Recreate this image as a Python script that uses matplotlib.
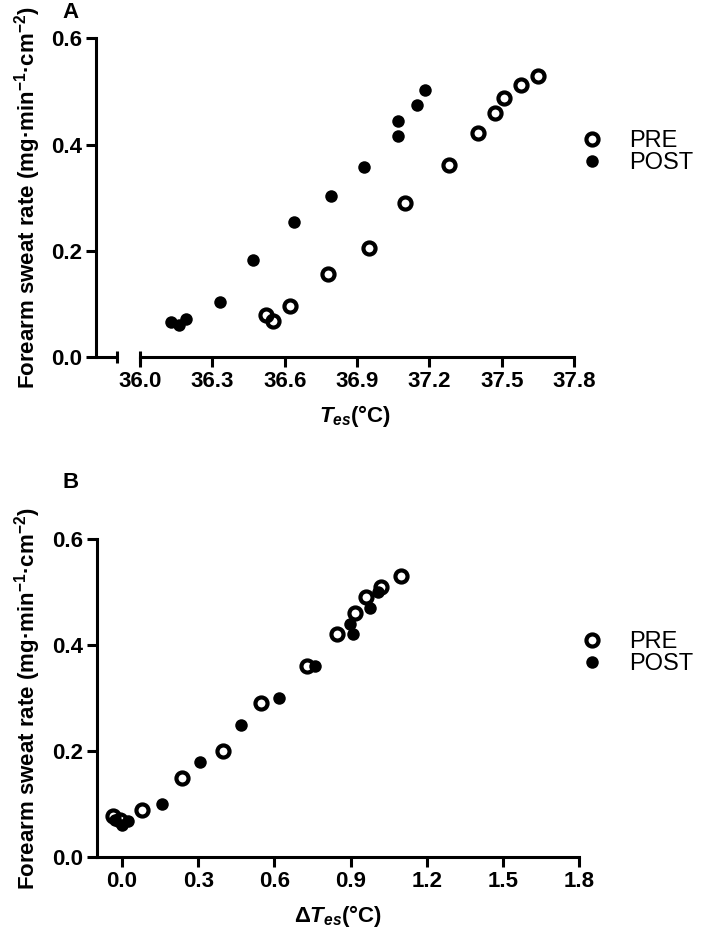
import matplotlib
matplotlib.use('Agg')
import matplotlib.pyplot as plt

plt.rcParams['font.family'] = ['Liberation Sans', 'DejaVu Sans']
plt.rcParams['mathtext.fontset'] = 'custom'
plt.rcParams['mathtext.rm'] = 'Liberation Sans:bold'
plt.rcParams['mathtext.it'] = 'Liberation Sans:bold:italic'
plt.rcParams['mathtext.bf'] = 'Liberation Sans:bold'

# Panel A - sweat rate vs absolute Tes
pre_tes = [36.52, 36.55, 36.62, 36.78, 36.95, 37.10, 37.28, 37.40, 37.47, 37.51, 37.58, 37.65]
pre_sr_a = [0.079, 0.069, 0.097, 0.156, 0.206, 0.290, 0.362, 0.421, 0.459, 0.488, 0.513, 0.529]
post_tes = [36.13, 36.16, 36.19, 36.33, 36.47, 36.64, 36.79, 36.93, 37.07, 37.07, 37.15, 37.18]
post_sr_a = [0.066, 0.060, 0.072, 0.104, 0.182, 0.254, 0.304, 0.358, 0.445, 0.416, 0.475, 0.502]

# Panel B - sweat rate vs change in Tes
pre_dtes = [-0.035, -0.01, 0.078, 0.237, 0.399, 0.548, 0.727, 0.847, 0.919, 0.959, 1.018, 1.098]
pre_sr_b = [0.077, 0.069, 0.089, 0.150, 0.200, 0.290, 0.360, 0.420, 0.460, 0.490, 0.510, 0.530]
post_dtes = [-0.028, -0.001, 0.025, 0.158, 0.307, 0.469, 0.619, 0.758, 0.909, 0.899, 0.978, 1.009]
post_sr_b = [0.070, 0.060, 0.068, 0.100, 0.180, 0.250, 0.300, 0.360, 0.420, 0.440, 0.470, 0.500]

a_ticks = [36.0, 36.3, 36.6, 36.9, 37.2, 37.5, 37.8]
b_ticks = [0.0, 0.3, 0.6, 0.9, 1.2, 1.5, 1.8]
y_ticks = [0.0, 0.2, 0.4, 0.6]

ylab = 'Forearm sweat rate (mg·min$^{-1}$·cm$^{-2}$)'
LW = 2.2

fig = plt.figure(figsize=(7.01, 9.35), dpi=100)
axA = fig.add_axes([0.137, 0.618, 0.682, 0.341])
axB = fig.add_axes([0.138, 0.0834, 0.688, 0.340])


def style(ax):
    for s in ['top', 'right']:
        ax.spines[s].set_visible(False)
    ax.spines['left'].set_linewidth(LW)
    ax.spines['bottom'].set_linewidth(LW)
    ax.tick_params(width=LW, length=7, labelsize=16, pad=3, direction='out')
    ax.set_ylim(0, 0.6)
    ax.set_yticks(y_ticks)
    ax.set_yticklabels([f'{v:.1f}' for v in y_ticks], fontweight='bold')
    ax.set_ylabel(ylab, fontsize=16, fontweight='bold')
    ax.yaxis.set_label_coords(-0.111, 0.5)


def scatter(ax, xpre, ypre, xpost, ypost):
    ax.plot(xpre, ypre, 'o', ls='none', mfc='none', mec='black', ms=8.7, mew=3.0,
            label='PRE', clip_on=False)
    ax.plot(xpost, ypost, 'o', ls='none', color='black', ms=9, mew=0,
            label='POST', clip_on=False)
    ax.legend(loc='center left', frameon=False, fontsize=17, handlelength=1.0,
              handletextpad=1.1, labelspacing=0.0, borderpad=0, borderaxespad=0,
              bbox_transform=fig.transFigure,
              bbox_to_anchor=(0.8274, 0.8375 if ax is axA else 0.3017))


# Panel A with broken x axis
style(axA)
scatter(axA, pre_tes, pre_sr_a, post_tes, post_sr_a)
axA.set_xlim(35.817, 37.8)
axA.spines['bottom'].set_visible(False)
brk = 35.904
axA.plot([35.817, brk], [0, 0], color='black', lw=LW, clip_on=False, solid_capstyle='butt')
axA.plot([a_ticks[0], a_ticks[-1]], [0, 0], color='black', lw=LW, clip_on=False,
         solid_capstyle='projecting')
axA.plot([brk, a_ticks[0]], [0, 0], ls='none', marker='|', ms=8, mew=LW, color='black',
         clip_on=False)
axA.set_xticks(a_ticks)
axA.set_xticklabels([f'{v:.1f}' for v in a_ticks], fontweight='bold')
axA.set_xlabel('$\\mathit{T}_{\\mathit{es}}$(°C)', fontsize=16, fontweight='bold')
axA.xaxis.set_label_coords(0.542, -0.145)

# Panel B
style(axB)
scatter(axB, pre_dtes, pre_sr_b, post_dtes, post_sr_b)
axB.set_xlim(-0.1, 1.8)
axB.set_xticks(b_ticks)
axB.set_xticklabels([f'{v:.1f}' for v in b_ticks], fontweight='bold')
axB.set_xlabel('Δ$\\mathit{T}_{\\mathit{es}}$(°C)', fontsize=16, fontweight='bold')
axB.xaxis.set_label_coords(0.5, -0.145)

fig.text(0.0885, 1 - 13 / 935, 'A', fontsize=16, fontweight='bold', va='center')
fig.text(0.0885, 1 - 483 / 935, 'B', fontsize=16, fontweight='bold', va='center')

fig.savefig('out.png', dpi=100)
